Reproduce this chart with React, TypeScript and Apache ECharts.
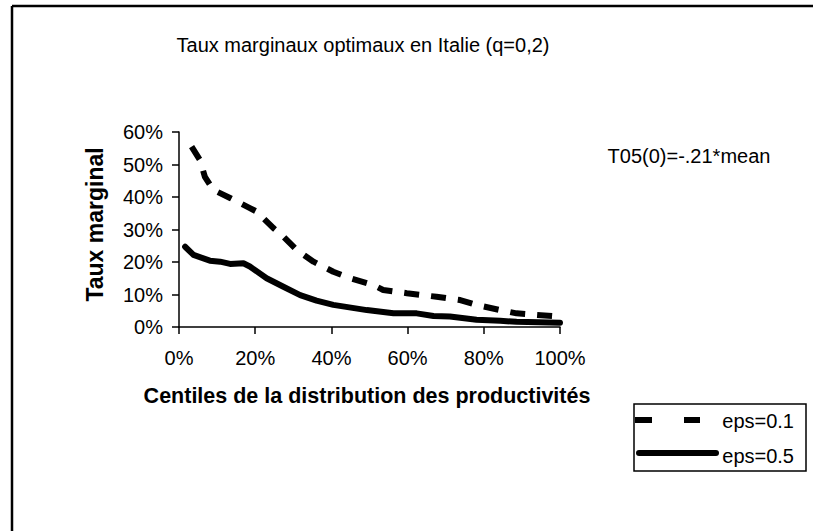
import React, { useEffect, useRef } from "react";
import * as echarts from "echarts";

const xTicks = [0, 20, 40, 60, 80, 100];
const yTicks = [0, 10, 20, 30, 40, 50, 60];

const eps01X = [3.3, 5.5, 6.8, 9, 13.4, 18.6, 20.4, 24.8, 27, 30.9, 35.3, 40.5, 44.9, 51, 53.6, 59.8, 67.6, 73.8, 78.1, 84.3, 88.6, 100];
const eps01Y = [55.5, 51.4, 46.2, 42.2, 39.7, 36.6, 35.5, 30.4, 28.3, 23.7, 20.1, 17, 15, 12.9, 11.4, 10.4, 9.3, 8.3, 6.8, 5.2, 4.2, 3.2];

const eps05X = [1.6, 3.8, 8.1, 10.8, 13.4, 16.9, 18.6, 23, 27.4, 31.8, 36.1, 40.5, 49.3, 56.3, 62.4, 66.8, 71.1, 78.1, 84.3, 88.6, 100];
const eps05Y = [24.7, 22.2, 20.4, 20.1, 19.4, 19.6, 18.6, 15, 12.4, 9.8, 8.1, 6.8, 5.2, 4.2, 4.2, 3.4, 3.2, 2.2, 1.9, 1.6, 1.3];

const seriesNames = ["eps=0.1", "eps=0.5"];
const titleText = "Taux marginaux optimaux en Italie (q=0,2)";
const noteText = "T05(0)=-.21*mean";
const xTitle = "Centiles de la distribution des productivités";
const yTitle = "Taux marginal";

const FONT = "Liberation Sans, Arial, sans-serif";

export default function App() {
  const ref = useRef<HTMLDivElement>(null);
  useEffect(() => {
    const chart = echarts.init(ref.current!, null, { renderer: "svg" });
    const zip = (xs: number[], ys: number[]) => xs.map((x, i) => [x, ys[i]]);
    chart.setOption({
      animation: false,
      backgroundColor: "#fff",
      textStyle: { fontFamily: FONT },
      grid: { left: 179, right: 253, top: 132, bottom: 204, containLabel: false },
      xAxis: {
        type: "value",
        min: xTicks[0],
        max: xTicks[xTicks.length - 1],
        interval: 20,
        axisLine: { lineStyle: { color: "#000", width: 1.5 } },
        axisTick: { show: true, inside: false, length: 7, lineStyle: { color: "#000", width: 1.5 } },
        splitLine: { show: false },
        axisLabel: { color: "#000", fontSize: 20, fontFamily: FONT, margin: 21, formatter: (v: number) => v + "%" },
        name: xTitle,
        nameLocation: "middle",
        nameGap: 58,
        nameTextStyle: { color: "#000", fontSize: 21.5, fontWeight: "bold", fontFamily: FONT, padding: [0, 0, 0, -5] },
      },
      yAxis: {
        type: "value",
        min: yTicks[0],
        max: yTicks[yTicks.length - 1],
        interval: 10,
        axisLine: { show: true, lineStyle: { color: "#000", width: 1.5 } },
        axisTick: { show: true, inside: false, length: 7, lineStyle: { color: "#000", width: 1.5 } },
        splitLine: { show: false },
        axisLabel: { color: "#000", fontSize: 20, fontFamily: FONT, margin: 16, formatter: (v: number) => v + "%" },
        name: yTitle,
        nameLocation: "middle",
        nameGap: 73,
        nameRotate: 90,
        nameTextStyle: { color: "#000", fontSize: 23, fontWeight: "bold", fontFamily: FONT, padding: [0, 0, 0, 10] },
      },
      series: [
        {
          name: seriesNames[0],
          type: "line",
          data: zip(eps01X, eps01Y),
          showSymbol: false,
          lineStyle: { color: "#000", width: 6, type: [15, 12], cap: "butt" },
        },
        {
          name: seriesNames[1],
          type: "line",
          data: zip(eps05X, eps05Y),
          showSymbol: false,
          lineStyle: { color: "#000", width: 6, cap: "round", join: "round" },
        },
      ],
      graphic: [
        { type: "line", shape: { x1: 12, y1: 6, x2: 813, y2: 6 }, style: { stroke: "#000", lineWidth: 2.5 }, silent: true },
        { type: "line", shape: { x1: 12, y1: 6, x2: 12, y2: 531 }, style: { stroke: "#000", lineWidth: 2.5 }, silent: true },
        { type: "text", x: 363, y: 45, style: { text: titleText, fill: "#000", fontSize: 20, fontFamily: FONT, align: "center", verticalAlign: "middle" } },
        { type: "text", x: 689, y: 156, style: { text: noteText, fill: "#000", fontSize: 20, fontFamily: FONT, align: "center", verticalAlign: "middle" } },
        { type: "rect", shape: { x: 634, y: 404, width: 172, height: 67 }, style: { fill: "#fff", stroke: "#000", lineWidth: 1.5 } },
        { type: "line", shape: { x1: 635, y1: 420, x2: 700, y2: 420 }, style: { stroke: "#000", lineWidth: 6, lineDash: [17, 32] } },
        { type: "text", x: 794, y: 421, style: { text: seriesNames[0], fill: "#000", fontSize: 20, fontFamily: FONT, align: "right", verticalAlign: "middle" } },
        { type: "line", shape: { x1: 639, y1: 453, x2: 716, y2: 453 }, style: { stroke: "#000", lineWidth: 6, lineCap: "round" } },
        { type: "text", x: 794, y: 456, style: { text: seriesNames[1], fill: "#000", fontSize: 20, fontFamily: FONT, align: "right", verticalAlign: "middle" } },
      ],
    });
    return () => chart.dispose();
  }, []);
  return <div ref={ref} style={{ position: "fixed", left: 0, top: 0, width: 813, height: 531 }} />;
}
